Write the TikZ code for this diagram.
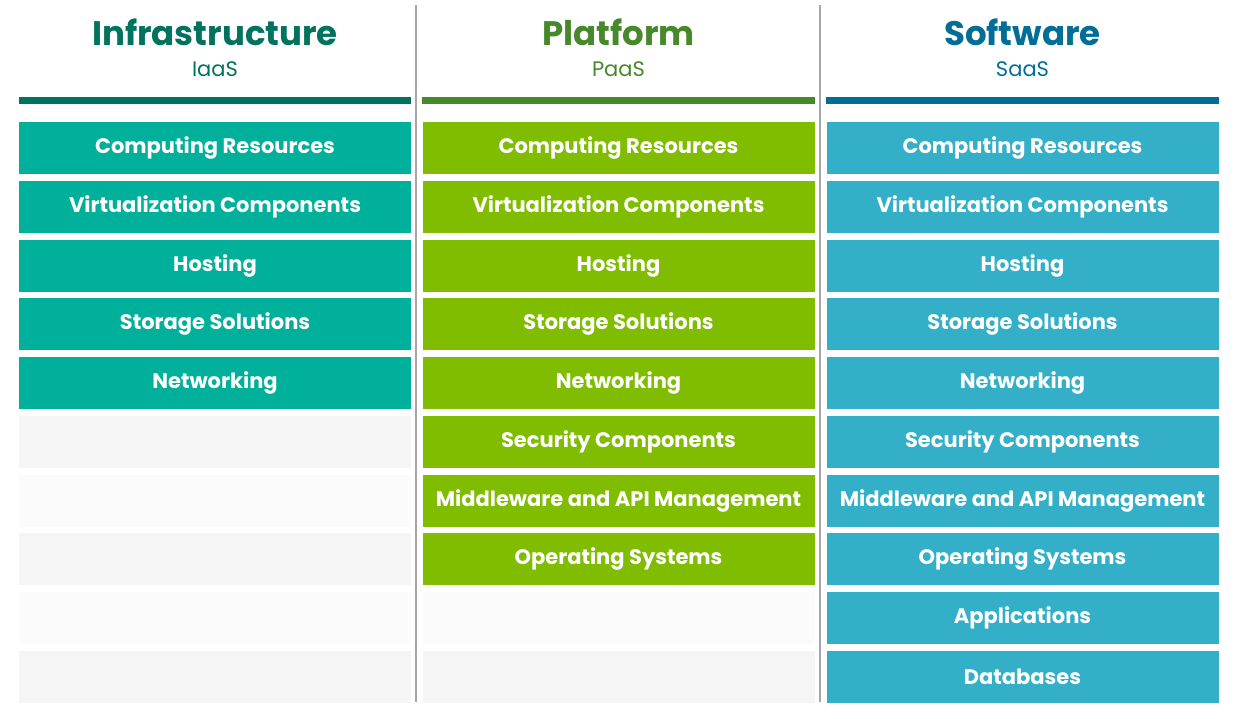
\documentclass[tikz,border=0pt]{standalone}
\usepackage{fontspec}
\setmainfont{Poppins}
\usepackage{tikz}

\definecolor{iaasdark}{HTML}{00735F}
\definecolor{iaascell}{HTML}{00B09B}
\definecolor{paasdark}{HTML}{47882A}
\definecolor{paascell}{HTML}{80BC00}
\definecolor{saasdark}{HTML}{006E96}
\definecolor{saascell}{HTML}{33AFC8}
\definecolor{emptyA}{HTML}{F4F5F4}
\definecolor{emptyB}{HTML}{FBFBFB}
\definecolor{rulegray}{HTML}{A6A6A6}

\tikzset{
  cell/.style={minimum width=392pt,minimum height=52pt,inner sep=0pt,text=white,
    font=\fontsize{21}{24}\selectfont\bfseries},
  title/.style={anchor=base,font=\fontsize{34}{38}\selectfont\bfseries},
  subtitle/.style={anchor=base,font=\fontsize{21}{23}\selectfont}
}

\begin{document}
\begin{tikzpicture}[x=1pt,y=-1pt]
    \useasboundingbox (0,0) rectangle (1235,719);
    % dividers
    \draw[rulegray,line width=1.5pt] (416,5) -- (416,702);
    \draw[rulegray,line width=1.5pt] (820,5) -- (820,702);
    % headings
    \node[title,text=iaasdark] (titI) at (215,46) {Infrastructure};
    \node[subtitle,text=iaasdark] (subI) at (215,77) {IaaS};
    \node[title,text=paasdark] (titP) at (618.5,46) {Platform};
    \node[subtitle,text=paasdark] (subP) at (618.5,77) {PaaS};
    \node[title,text=saasdark] (titS) at (1022.5,46) {Software};
    \node[subtitle,text=saasdark] (subS) at (1022.5,77) {SaaS};
    \draw[iaasdark,line width=7pt] (19,100.5) -- (411,100.5);
    \draw[paasdark,line width=7pt] (422,100.5) -- (815,100.5);
    \draw[saasdark,line width=7pt] (826,100.5) -- (1219,100.5);
    % empty rows
    \foreach \i/\shade in {6/emptyA,7/emptyB,8/emptyA,9/emptyB,10/emptyA}
        \node[cell,fill=\shade] (ie\i) at (215,{148+(\i-1)*58.78}) {};
    \foreach \i/\shade in {9/emptyB,10/emptyA}
        \node[cell,fill=\shade] (pe\i) at (618.5,{148+(\i-1)*58.78}) {};
    % IaaS
    \foreach \lab [count=\i] in {Computing Resources,Virtualization Components,Hosting,
        Storage Solutions,Networking}
        \node[cell,fill=iaascell] (i\i) at (215,{148+(\i-1)*58.78}) {\lab};
    % PaaS
    \foreach \lab [count=\i] in {Computing Resources,Virtualization Components,Hosting,
        Storage Solutions,Networking,Security Components,Middleware and API Management,
        Operating Systems}
        \node[cell,fill=paascell] (p\i) at (618.5,{148+(\i-1)*58.78}) {\lab};
    % SaaS
    \foreach \lab [count=\i] in {Computing Resources,Virtualization Components,Hosting,
        Storage Solutions,Networking,Security Components,Middleware and API Management,
        Operating Systems,Applications,Databases}
        \node[cell,fill=saascell] (s\i) at (1022.5,{148+(\i-1)*58.78}) {\lab};
\end{tikzpicture}
\end{document}
